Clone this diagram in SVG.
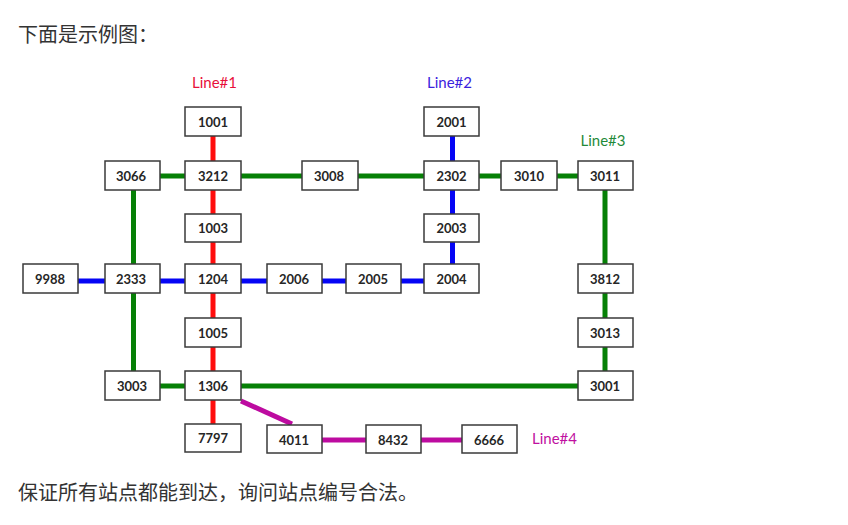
<svg xmlns="http://www.w3.org/2000/svg" width="848" height="525" viewBox="0 0 848 525">
<style>
.n rect{fill:#fff;stroke:#3a3a3a;stroke-width:1.5}
.n text{font:bold 13px Lato,"Open Sans",sans-serif;fill:#262626;text-anchor:middle}
.l{font:15px Lato,"Open Sans",sans-serif;text-anchor:middle}
.p{font:20px "Noto Sans CJK SC",sans-serif;fill:#333}
#connectors line{stroke-width:5;fill:none}
.r{stroke:#ff0d0d}.b{stroke:#0505f5}.g{stroke:#068006}.m{stroke:#bd0ba0}
</style>
<rect width="848" height="525" fill="#fff"/>
<text class="p" x="18" y="42">下面是示例图：</text>
<text class="p" x="18" y="500">保证所有站点都能到达，询问站点编号合法。</text>
<text class="l" x="214.500" y="88" fill="#e8103a">Line#1</text>
<text class="l" x="449.500" y="88" fill="#3a22dd">Line#2</text>
<text class="l" x="603" y="146" fill="#1f8a3a">Line#3</text>
<text class="l" x="554.500" y="444" fill="#c010a0">Line#4</text>
<g id="connectors">
<line class="r" x1="213" y1="136" x2="213" y2="385"/>
<line class="r" x1="213" y1="385" x2="213" y2="438"/>
<line class="b" x1="452.500" y1="122" x2="452.500" y2="278"/>
<line class="b" x1="50" y1="281" x2="451" y2="281"/>
<line class="g" x1="133" y1="176" x2="605" y2="176"/>
<line class="g" x1="133.500" y1="176" x2="133.500" y2="385"/>
<line class="g" x1="605" y1="176" x2="605" y2="386"/>
<line class="g" x1="133" y1="386" x2="605" y2="386"/>
<line class="m" x1="241" y1="401" x2="292" y2="424"/>
<line class="m" x1="295" y1="440" x2="489" y2="440"/>
</g>
<g id="n1001" class="n"><rect x="185" y="107" width="56" height="29"/><text x="213" y="126.500">1001</text></g>
<g id="n2001" class="n"><rect x="424" y="107" width="55" height="29"/><text x="451.500" y="126.500">2001</text></g>
<g id="n3066" class="n"><rect x="105" y="161" width="55" height="29"/><text x="131" y="180.500">3066</text></g>
<g id="n3212" class="n"><rect x="185" y="161" width="56" height="29"/><text x="213" y="180.500">3212</text></g>
<g id="n3008" class="n"><rect x="302" y="161" width="56" height="29"/><text x="329" y="180.500">3008</text></g>
<g id="n2302" class="n"><rect x="424" y="161" width="55" height="29"/><text x="451.500" y="180.500">2302</text></g>
<g id="n3010" class="n"><rect x="501" y="161" width="56" height="29"/><text x="529" y="180.500">3010</text></g>
<g id="n3011" class="n"><rect x="578" y="161" width="55" height="29"/><text x="605" y="180.500">3011</text></g>
<g id="n1003" class="n"><rect x="185" y="214" width="56" height="28"/><text x="213" y="233">1003</text></g>
<g id="n2003" class="n"><rect x="424" y="214" width="55" height="28"/><text x="451.500" y="233">2003</text></g>
<g id="n9988" class="n"><rect x="23" y="264" width="55" height="29"/><text x="50" y="283.500">9988</text></g>
<g id="n2333" class="n"><rect x="105" y="264" width="55" height="29"/><text x="131" y="283.500">2333</text></g>
<g id="n1204" class="n"><rect x="185" y="264" width="56" height="29"/><text x="213" y="283.500">1204</text></g>
<g id="n2006" class="n"><rect x="267" y="264" width="55" height="29"/><text x="294" y="283.500">2006</text></g>
<g id="n2005" class="n"><rect x="346" y="264" width="55" height="29"/><text x="373" y="283.500">2005</text></g>
<g id="n2004" class="n"><rect x="424" y="264" width="55" height="29"/><text x="451.500" y="283.500">2004</text></g>
<g id="n3812" class="n"><rect x="578" y="264" width="55" height="29"/><text x="605" y="283.500">3812</text></g>
<g id="n1005" class="n"><rect x="185" y="318" width="56" height="29"/><text x="213" y="337.500">1005</text></g>
<g id="n3013" class="n"><rect x="578" y="318" width="55" height="29"/><text x="605" y="337.500">3013</text></g>
<g id="n3003" class="n"><rect x="105" y="371" width="55" height="29"/><text x="132" y="390.500">3003</text></g>
<g id="n1306" class="n"><rect x="185" y="371" width="56" height="29"/><text x="213" y="390.500">1306</text></g>
<g id="n3001" class="n"><rect x="578" y="371" width="55" height="29"/><text x="605" y="390.500">3001</text></g>
<g id="n7797" class="n"><rect x="185" y="424" width="56" height="28"/><text x="213" y="443">7797</text></g>
<g id="n4011" class="n"><rect x="267" y="425" width="55" height="28"/><text x="294" y="444.500">4011</text></g>
<g id="n8432" class="n"><rect x="366" y="425" width="55" height="28"/><text x="393" y="444.500">8432</text></g>
<g id="n6666" class="n"><rect x="462" y="425" width="55" height="28"/><text x="489" y="444.500">6666</text></g>
</svg>
